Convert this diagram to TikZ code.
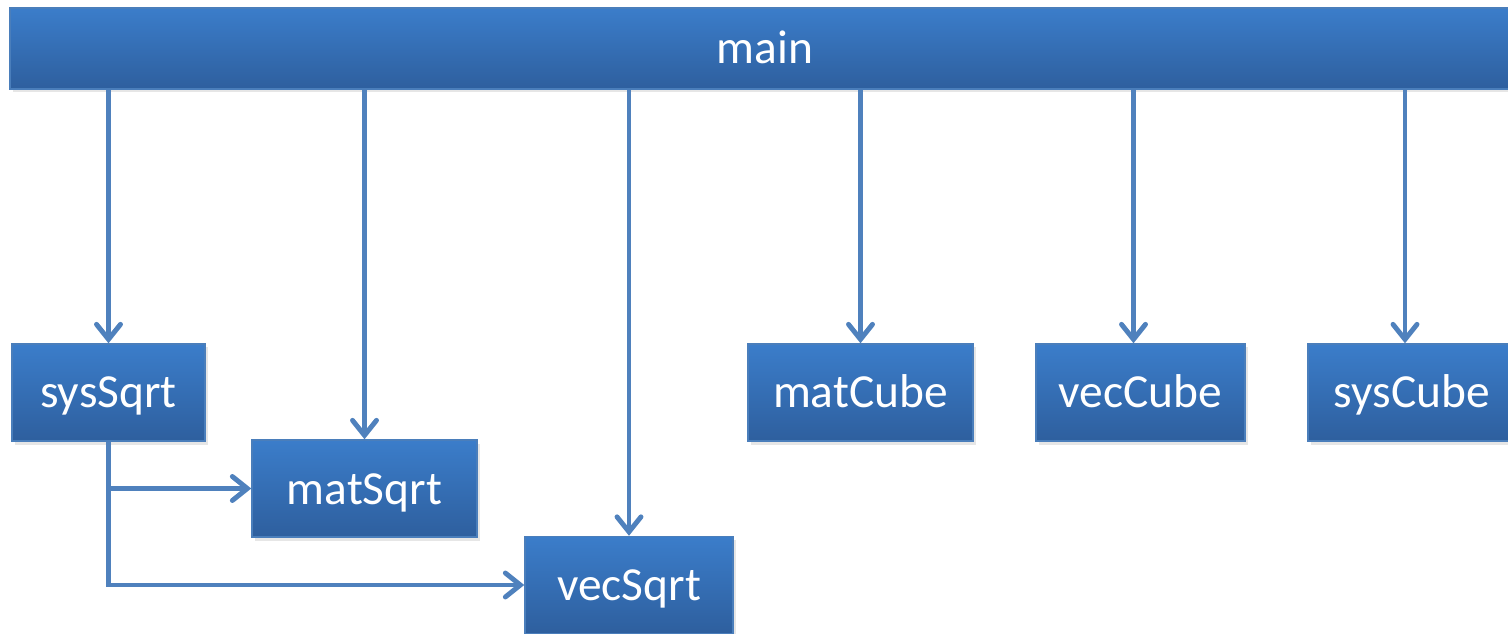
\documentclass[tikz,border=0pt]{standalone}
\usepackage{fontspec}
\setmainfont{Carlito}
\usepackage{tikz}
\usetikzlibrary{arrows.meta, positioning, shadows}

\definecolor{boxtop}{HTML}{3B7DCA}
\definecolor{boxbot}{HTML}{2E5F9E}
\definecolor{boxedge}{HTML}{4A7EBB}
\definecolor{linkcol}{HTML}{4F81BD}

\begin{document}
\begin{tikzpicture}[
    func/.style={rectangle, draw=boxedge, line width=0.8pt, top color=boxtop, bottom color=boxbot,
        text=white, minimum height=1.94cm, inner sep=0pt, text height=0.85cm, text depth=0.23cm,
        font=\fontsize{27}{31}\selectfont,
        drop shadow={shadow xshift=0.05cm, shadow yshift=-0.07cm, opacity=0.2}},
    arrow/.style={-{Straight Barb[length=0.3cm, width=0.48cm, line cap=round]}, draw=linkcol, line width=2.8pt}
]
\useasboundingbox (0,0) rectangle (30.16,-12.68);

\node[func, minimum width=30.2cm, minimum height=1.62cm] (main) at (15.30,-0.97) {main};

\node[func, minimum width=3.86cm] (sysSqrt) at (2.17,-7.85) {sysSqrt};
\node[func, minimum width=4.5cm] (matSqrt) at (7.29,-9.77) {matSqrt};
\node[func, minimum width=4.16cm] (vecSqrt) at (12.58,-11.70) {vecSqrt};
\node[func, minimum width=4.5cm] (matCube) at (17.21,-7.85) {matCube};
\node[func, minimum width=4.18cm] (vecCube) at (22.81,-7.85) {vecCube};
\node[func, minimum width=4.16cm] (sysCube) at (28.24,-7.85) {sysCube};

% arrow ends a little left of centre
\coordinate (vecCubeIn) at ([xshift=-0.14cm]vecCube.north);
\coordinate (sysCubeIn) at ([xshift=-0.14cm]sysCube.north);

% calls from main
\draw[arrow] (main.south -| sysSqrt.north) -- (sysSqrt.north);
\draw[arrow] (main.south -| matSqrt.north) -- (matSqrt.north);
\draw[arrow] (main.south -| vecSqrt.north) -- (vecSqrt.north);
\draw[arrow] (main.south -| matCube.north) -- (matCube.north);
\draw[arrow] (main.south -| vecCubeIn) -- (vecCubeIn);
\draw[arrow] (main.south -| sysCubeIn) -- (sysCubeIn);

% calls from sysSqrt
\draw[arrow] (sysSqrt.south) |- (matSqrt.west);
\draw[arrow] (sysSqrt.south) |- (vecSqrt.west);

\end{tikzpicture}
\end{document}
